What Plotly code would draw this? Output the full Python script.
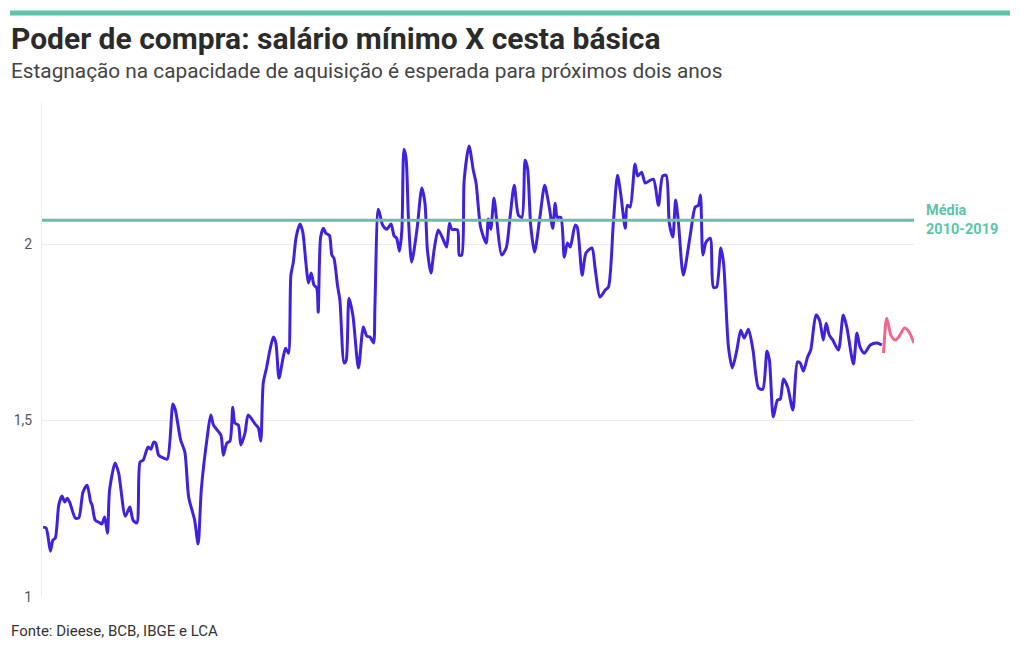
import plotly.graph_objects as go

# Índice de poder de compra (salário mínimo / cesta básica), período em meses desde o início da série
periodo_hist = [0.3, 1.2, 2.4, 3.1, 3.8, 4.8, 5.7, 6.5, 7.2, 7.9, 9.5, 10.5, 11.7, 12.9, 13.9, 14.3, 15.2, 16.5, 17.1, 17.9,
                18.7, 19.3, 20.9, 21.9, 23.8, 25.1, 26.0, 27.1, 28.0, 28.9, 30.3, 31.1, 31.9, 32.5, 33.3, 34.6, 35.8, 37.4, 38.1, 39.6,
                40.8, 41.9, 43.6, 44.6, 45.5, 47.2, 48.2, 49.0, 51.1, 51.8, 52.8, 53.7, 54.5, 55.1, 56.1, 56.8, 58.0, 58.9, 60.9, 61.8,
                62.5, 63.2, 64.2, 65.1, 66.1, 66.8, 67.7, 68.9, 69.6, 70.4, 71.1, 71.8, 72.6, 73.7, 74.5, 75.4, 76.1, 76.9, 77.7, 78.5,
                78.9, 79.6, 80.4, 81.1, 82.1, 82.8, 83.4, 84.4, 85.1, 86.3, 86.9, 87.7, 88.8, 90.4, 91.8, 92.8, 93.7, 94.7, 95.1, 96.1,
                97.3, 98.5, 99.7, 100.6, 101.3, 102.1, 102.8, 103.4, 104.0, 104.7, 105.6, 107.1, 108.5, 109.4, 110.1, 111.1, 112.0, 113.2, 114.7, 115.6,
                116.4, 117.1, 118.7, 119.2, 119.9, 120.6, 122.0, 123.2, 124.0, 125.3, 126.9, 127.5, 128.2, 129.1, 129.9, 131.3, 132.6, 133.7, 134.9, 136.1,
                137.1, 138.0, 138.7, 139.6, 140.7, 142.3, 143.6, 144.9, 145.9, 146.6, 147.2, 148.2, 149.2, 150.1, 150.9, 152.3, 152.9, 154.3, 155.4, 157.1,
                158.0, 159.4, 160.9, 161.8, 163.2, 164.4, 165.3, 166.6, 167.2, 168.0, 169.4, 170.2, 171.3, 172.3, 173.7, 174.7, 176.1, 177.3, 178.3, 179.2,
                180.2, 181.0, 181.8, 183.2, 185.1, 186.6, 187.5, 188.1, 188.8, 189.7, 190.9, 191.8, 192.7, 193.9, 194.7, 196.1, 197.2, 198.5, 199.6, 200.6,
                201.8, 203.1, 204.7, 205.9, 207.1, 207.8, 208.9, 210.1, 210.9, 211.8, 213.0, 214.5, 215.8, 216.6, 217.5, 218.7, 219.6, 221.1, 222.1, 223.2,
                224.0, 224.9, 225.9, 227.5, 228.9, 229.9, 231.8, 232.8, 233.7, 234.9, 236.6, 238.5, 239.9]
valor_hist = [1.198, 1.195, 1.130, 1.161, 1.167, 1.261, 1.286, 1.269, 1.280, 1.269, 1.224, 1.224, 1.297, 1.317, 1.269, 1.261, 1.218, 1.210, 1.207, 1.227,
              1.181, 1.303, 1.380, 1.351, 1.229, 1.255, 1.218, 1.210, 1.382, 1.388, 1.425, 1.419, 1.439, 1.436, 1.402, 1.394, 1.391, 1.547, 1.530, 1.445,
              1.411, 1.283, 1.218, 1.150, 1.303, 1.453, 1.516, 1.487, 1.459, 1.402, 1.436, 1.442, 1.538, 1.493, 1.487, 1.431, 1.465, 1.516, 1.490, 1.479,
              1.442, 1.606, 1.652, 1.700, 1.737, 1.720, 1.620, 1.680, 1.705, 1.691, 1.912, 1.949, 2.020, 2.057, 2.034, 1.946, 1.890, 1.918, 1.884, 1.875,
              1.807, 2.020, 2.045, 2.031, 2.025, 1.969, 1.960, 1.884, 1.841, 1.663, 1.671, 1.847, 1.799, 1.649, 1.765, 1.739, 1.737, 1.720, 1.822, 2.099,
              2.054, 2.042, 2.057, 2.023, 2.017, 1.980, 2.040, 2.269, 2.244, 2.068, 1.949, 2.040, 2.159, 2.116, 1.983, 1.918, 1.983, 2.040, 2.011, 1.992,
              2.059, 2.042, 2.040, 1.969, 1.969, 2.181, 2.278, 2.210, 2.173, 2.048, 2.003, 2.071, 2.042, 2.130, 2.068, 1.969, 1.989, 2.076, 2.167, 2.082,
              2.076, 2.238, 2.215, 2.054, 1.977, 2.082, 2.167, 2.105, 2.045, 2.116, 2.076, 2.076, 1.963, 2.003, 1.992, 2.054, 2.048, 1.912, 1.975, 1.989,
              1.932, 1.850, 1.870, 1.878, 2.059, 2.195, 2.144, 2.045, 2.110, 2.105, 2.227, 2.193, 2.204, 2.173, 2.181, 2.184, 2.110, 2.193, 2.195, 2.059,
              2.020, 2.125, 2.062, 1.912, 2.020, 2.105, 2.110, 2.139, 1.969, 2.006, 2.017, 1.878, 1.878, 1.989, 1.946, 1.708, 1.649, 1.700, 1.756, 1.734,
              1.759, 1.700, 1.592, 1.589, 1.697, 1.671, 1.510, 1.558, 1.561, 1.618, 1.595, 1.530, 1.666, 1.663, 1.640, 1.680, 1.700, 1.799, 1.785, 1.728,
              1.776, 1.742, 1.728, 1.700, 1.799, 1.765, 1.660, 1.748, 1.708, 1.691, 1.714, 1.720, 1.714]

periodo_proj = [240.4, 241.3, 242.5, 243.7, 244.9, 246.3, 247.5, 249.1]
valor_proj = [1.691, 1.790, 1.742, 1.728, 1.739, 1.762, 1.754, 1.720]

media_2010_2019 = 2.068
y_ticks = [1, 1.5, 2]
y_tick_labels = ["1", "1,5", "2"]

AZUL = "#3f22dc"
ROSA = "#f2668e"
VERDE = "#5cc4a9"
FONT = "Roboto"

fig = go.Figure()
fig.add_trace(go.Scatter(x=periodo_hist, y=valor_hist, mode="lines",
                         line=dict(color=AZUL, width=3, shape="spline", smoothing=0.7),
                         hoverinfo="skip", showlegend=False))
fig.add_trace(go.Scatter(x=periodo_proj, y=valor_proj, mode="lines",
                         line=dict(color=ROSA, width=3, shape="spline", smoothing=0.7),
                         hoverinfo="skip", showlegend=False))

fig.add_shape(type="line", xref="paper", yref="y", x0=0, x1=1, y0=media_2010_2019, y1=media_2010_2019,
              line=dict(color=VERDE, width=3))

W, H = 1020, 650
L, R, T, B = 42, 106, 103, 53
pw, ph = W - L - R, H - T - B

def px_x(px):
    return (px - L) / pw

def px_y(py):
    return (H - B - py) / ph

# top green bar
fig.add_shape(type="rect", xref="paper", yref="paper", x0=px_x(10), x1=px_x(1010), y0=px_y(15.5), y1=px_y(10.5),
              line=dict(width=0), fillcolor=VERDE, layer="above")

fig.add_annotation(xref="paper", yref="paper", x=px_x(9), y=px_y(38), xanchor="left", yanchor="middle",
                   text="<b>Poder de compra: salário mínimo X cesta básica</b>", showarrow=False,
                   font=dict(family=FONT, size=30, color="#2b2b2b"))
fig.add_annotation(xref="paper", yref="paper", x=px_x(9), y=px_y(71), xanchor="left", yanchor="middle",
                   text="Estagnação na capacidade de aquisição é esperada para próximos dois anos", showarrow=False,
                   font=dict(family=FONT, size=20.8, color="#444444"))
fig.add_annotation(xref="paper", yref="paper", x=px_x(9), y=px_y(631), xanchor="left", yanchor="middle",
                   text="Fonte: Dieese, BCB, IBGE e LCA", showarrow=False,
                   font=dict(family=FONT, size=15, color="#333333"))
fig.add_annotation(xref="paper", yref="y", x=px_x(924), y=media_2010_2019, xanchor="left", yanchor="middle",
                   text="<b>Média<br>2010-2019</b>", showarrow=False, align="left",
                   font=dict(family=FONT, size=14.5, color=VERDE))

fig.update_layout(
    width=W, height=H,
    margin=dict(l=L, r=R, t=T, b=B, pad=0),
    plot_bgcolor="white", paper_bgcolor="white",
    font=dict(family=FONT, color="#555555"),
    xaxis=dict(range=[0, 249.1], showgrid=False, showticklabels=False, zeroline=False, showline=False, ticks=""),
    yaxis=dict(range=[1, 2.4], tickvals=y_ticks, ticktext=y_tick_labels, showgrid=True, gridcolor="#ebebeb",
               gridwidth=1, zeroline=False, showline=True, linecolor="#ebebeb", linewidth=1,
               ticks="outside", ticklen=6, tickcolor="white", tickfont=dict(size=14, color="#555555")),
    showlegend=False,
)

fig.write_html("out.html")
